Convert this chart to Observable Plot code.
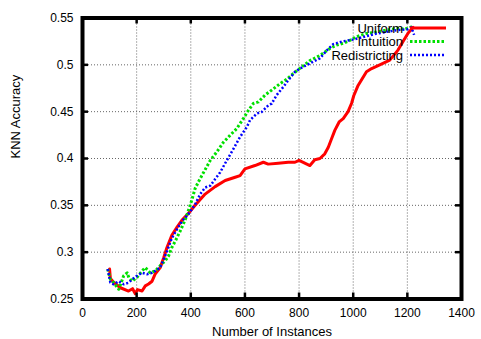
<!DOCTYPE html>
<html><head><meta charset="utf-8">
<script src="https://cdn.jsdelivr.net/npm/d3@7"></script>
<script src="https://cdn.jsdelivr.net/npm/@observablehq/plot@0.6"></script>
<style>body{margin:0;background:#fff} #chart svg{font-family:"Liberation Sans",Arial,sans-serif}</style>
</head><body><div id="chart"></div>
<script>
const seriesNames = ["Uniform", "Intuition", "Redistricting"];
const seriesColors = ["#ff0000", "#00e000", "#0000ff"];

const uniformX = [100,103,115,140,170,185,195,203,220,232,244,257,269,287,300,312,330,350,367,390,416,453,490,527,564,582,600,637,668,686,723,760,785,800,840,858,877,895,908,920,932,948,963,981,994,1002,1018,1049,1068,1098,1135,1166,1184,1203,1221];
const uniformY = [0.282,0.272,0.268,0.262,0.2585,0.261,0.2557,0.260,0.2585,0.264,0.266,0.269,0.277,0.2835,0.294,0.305,0.318,0.327,0.334,0.341,0.350,0.362,0.370,0.3765,0.380,0.3818,0.389,0.3925,0.396,0.394,0.395,0.396,0.396,0.398,0.3925,0.3987,0.400,0.405,0.412,0.421,0.430,0.439,0.4426,0.450,0.459,0.467,0.478,0.4926,0.496,0.500,0.505,0.516,0.525,0.534,0.540];

const intuitionX = [93,103,115,134,152,165,171,183,201,220,232,250,269,287,306,318,330,343,360,380,400,416,428,447,472,496,521,545,570,594,613,631,650,674,699,730,754,779,803,840,877,914,938,963,987,1012,1049,1086,1123,1159,1190,1221];
const intuitionY = [0.282,0.271,0.2675,0.2604,0.2747,0.278,0.273,0.269,0.273,0.280,0.2835,0.278,0.280,0.2855,0.291,0.296,0.305,0.312,0.322,0.335,0.352,0.368,0.375,0.385,0.398,0.407,0.4175,0.4247,0.432,0.4426,0.4515,0.4587,0.4604,0.4676,0.473,0.480,0.4845,0.4908,0.4962,0.5045,0.510,0.5175,0.521,0.523,0.526,0.530,0.5335,0.535,0.537,0.539,0.538,0.541];

const redistrictingX = [93,103,115,134,152,171,183,201,220,238,257,269,287,300,312,330,350,370,390,416,435,453,472,490,508,533,557,582,607,619,644,662,687,699,717,742,760,785,803,828,852,877,901,926,960,1000,1040,1080,1120,1160,1200,1215,1225];
const redistrictingY = [0.282,0.2675,0.2657,0.269,0.2657,0.2675,0.271,0.2747,0.278,0.2765,0.278,0.280,0.2835,0.2925,0.301,0.315,0.325,0.334,0.340,0.351,0.362,0.369,0.371,0.378,0.385,0.398,0.410,0.423,0.4336,0.441,0.448,0.4497,0.457,0.4587,0.4676,0.4765,0.4836,0.4926,0.496,0.4997,0.5033,0.507,0.515,0.522,0.525,0.527,0.530,0.533,0.535,0.537,0.538,0.540,0.532];

const xTicks = [0, 200, 400, 600, 800, 1000, 1200, 1400];
const xTickLabels = ["0", "200", "400", "600", "800", "1000", "1200", "1400"];
const yTicks = [0.25, 0.3, 0.35, 0.4, 0.45, 0.5, 0.55];
const yTickLabels = ["0.25", "0.3", "0.35", "0.4", "0.45", "0.5", "0.55"];
const xLabel = "Number of Instances";
const yLabel = "KNN Accuracy";

const zip = (xs, ys) => xs.map((x, i) => ({x, y: ys[i]}));
const uniform = zip(uniformX, uniformY);
const intuition = zip(intuitionX, intuitionY);
const redistricting = zip(redistrictingX, redistrictingY);
const xLabelMap = new Map(xTicks.map((t, i) => [t, xTickLabels[i]]));
const yLabelMap = new Map(yTicks.map((t, i) => [t, yTickLabels[i]]));

const W = 481, H = 339, mL = 82, mR = 20, mT = 17.5, mB = 40.5;
const innerW = W - mL - mR, innerH = H - mT - mB;
const tickLen = 6;
const gridStyle = {stroke: "#666", strokeOpacity: 1, strokeWidth: 1, strokeDasharray: "1,2"};
const innerX = xTicks.slice(1, -1), innerY = yTicks.slice(1, -1);

const chart = Plot.plot({
  width: W, height: H, marginLeft: mL, marginRight: mR, marginTop: mT, marginBottom: mB,
  style: {fontFamily: "Liberation Sans, Arial, sans-serif", fontSize: "12px", color: "black", background: "white"},
  x: {domain: [0, 1400]},
  y: {domain: [0.25, 0.55]},
  marks: [
    Plot.gridX(innerX, gridStyle),
    Plot.gridY(innerY, gridStyle),
    Plot.axisX(xTicks, {tickSize: 0, tickPadding: 9, label: null, fontSize: 12, tickFormat: d => xLabelMap.get(d)}),
    Plot.axisY(yTicks, {tickSize: 0, tickPadding: 9, label: null, fontSize: 12, tickFormat: d => yLabelMap.get(d)}),
    Plot.line(uniform, {x: "x", y: "y", stroke: seriesColors[0], strokeWidth: 3}),
    Plot.line(intuition, {x: "x", y: "y", stroke: seriesColors[1], strokeWidth: 3, strokeDasharray: "2.5,2", strokeLinecap: "butt"}),
    Plot.line(redistricting, {x: "x", y: "y", stroke: seriesColors[2], strokeWidth: 2.5, strokeDasharray: "2,2", strokeLinecap: "butt"}),
    Plot.tickX(innerX, {x: d => d, insetTop: innerH - tickLen, stroke: "black", strokeWidth: 2.5}),
    Plot.tickX(innerX, {x: d => d, insetBottom: innerH - tickLen, stroke: "black", strokeWidth: 2.5}),
    Plot.tickY(innerY, {y: d => d, insetRight: innerW - tickLen, stroke: "black", strokeWidth: 2.5}),
    Plot.tickY(innerY, {y: d => d, insetLeft: innerW - tickLen, stroke: "black", strokeWidth: 2.5}),
    Plot.frame({stroke: "black", strokeWidth: 4}),
    Plot.text([xLabel], {frameAnchor: "bottom", dy: 37, fontSize: 13, fill: "black"}),
    Plot.text([yLabel], {frameAnchor: "left", rotate: -90, dx: -67, fontSize: 13, fill: "black"})
  ]
});
document.getElementById("chart").append(chart);

// legend (gnuplot style, inside top-right)
const svg = d3.select(chart);
const lg = svg.append("g").attr("font-family", "Liberation Sans, Arial, sans-serif").attr("font-size", 13);
const dashes = [null, "2.5,2", "2,2"];
const widths = [3, 3, 2.5];
seriesNames.forEach((name, i) => {
  const y = 28 + i * 13.5;
  lg.append("text").attr("x", 403).attr("y", y).attr("dy", "0.35em").attr("text-anchor", "end").attr("fill", "black").text(name);
  lg.append("line").attr("x1", 410).attr("x2", 446).attr("y1", y).attr("y2", y)
    .attr("stroke", seriesColors[i]).attr("stroke-width", widths[i]).attr("stroke-dasharray", dashes[i]);
});
</script>
</body></html>
